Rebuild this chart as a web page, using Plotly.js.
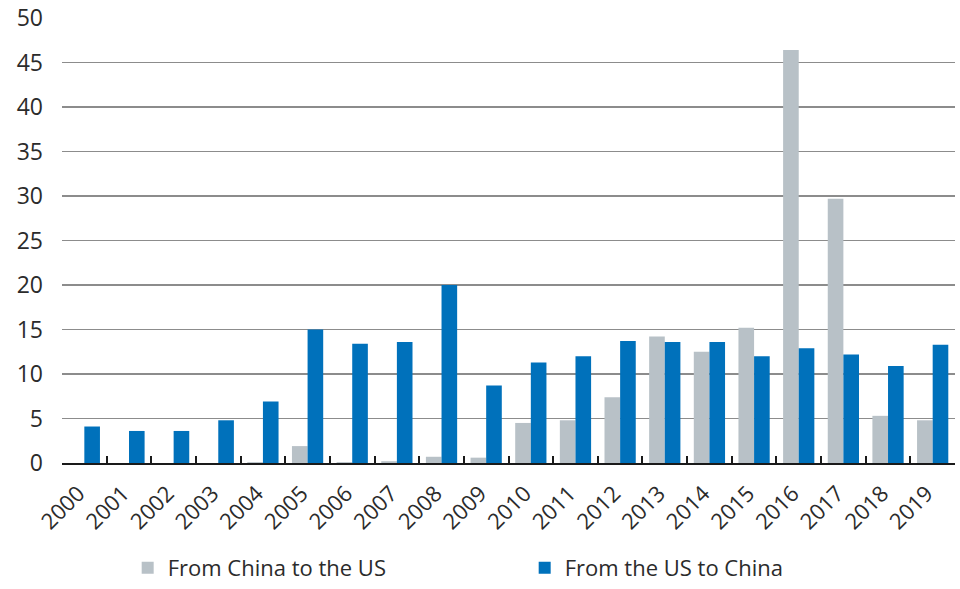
<!DOCTYPE html>
<html>
<head>
<meta charset="utf-8">
<script src="https://cdn.plot.ly/plotly-3.0.1.min.js"></script>
<style>html,body{margin:0;padding:0;background:#fff;}#chart{width:960px;height:589px;}</style>
</head>
<body>
<div id="chart"></div>
<script>
var years = ['2000','2001','2002','2003','2004','2005','2006','2007','2008','2009','2010','2011','2012','2013','2014','2015','2016','2017','2018','2019'];
var chinaToUS = [0, 0, 0, 0, 0.1, 1.9, 0.1, 0.2, 0.7, 0.6, 4.5, 4.8, 7.4, 14.2, 12.5, 15.2, 46.4, 29.7, 5.3, 4.8];
var usToChina = [4.1, 3.6, 3.6, 4.8, 6.9, 15.0, 13.4, 13.6, 20.0, 8.7, 11.3, 12.0, 13.7, 13.6, 13.6, 12.0, 12.9, 12.2, 10.9, 13.3];
var seriesNames = ['From China to the US', 'From the US to China'];
var yTicks = [0, 5, 10, 15, 20, 25, 30, 35, 40, 45, 50];

var fontFam = '"Open Sans", "Liberation Sans", sans-serif';
var data = [
  {type: 'bar', name: seriesNames[0], x: years, y: chinaToUS, marker: {color: '#b8c1c7'}, hoverinfo: 'x+y+name'},
  {type: 'bar', name: seriesNames[1], x: years, y: usToChina, marker: {color: '#0071bb'}, hoverinfo: 'x+y+name'}
];
var layout = {
  width: 960, height: 589,
  margin: {l: 62, r: 5, t: 18, b: 126},
  paper_bgcolor: '#fff', plot_bgcolor: '#fff',
  barmode: 'group', bargap: 0.3, bargroupgap: 0,
  font: {family: fontFam, color: '#2b2b2b', size: 20},
  xaxis: {
    type: 'category', tickangle: -45, tickfont: {size: 22, color: '#2b2b2b'},
    showline: true, linecolor: '#1a1a1a', linewidth: 2,
    ticks: 'inside', tickson: 'boundaries', ticklen: 7, tickcolor: '#1a1a1a', tickwidth: 2,
    ticklabelshift: -6, ticklabelstandoff: 7,
    showgrid: false, zeroline: false, fixedrange: true, automargin: false
  },
  yaxis: {
    range: [0, 50], tickvals: yTicks, ticktext: yTicks.map(String),
    tickfont: {size: 23, color: '#2b2b2b'},
    showgrid: true, gridcolor: '#8c8c8c', gridwidth: 1.3,
    zeroline: false, showline: false, ticks: '', ticklabelstandoff: 18, fixedrange: true, automargin: false
  },
  showlegend: true,
  legend: {
    orientation: 'h', xref: 'container', yref: 'container',
    x: 0.133, xanchor: 'left', y: 0.0, yanchor: 'bottom',
    font: {size: 22, color: '#2b2b2b'}, entrywidth: 352, entrywidthmode: 'pixels',
    traceorder: 'normal'
  }
};
Plotly.newPlot('chart', data, layout, {displayModeBar: false, staticPlot: true});
</script>
</body>
</html>
